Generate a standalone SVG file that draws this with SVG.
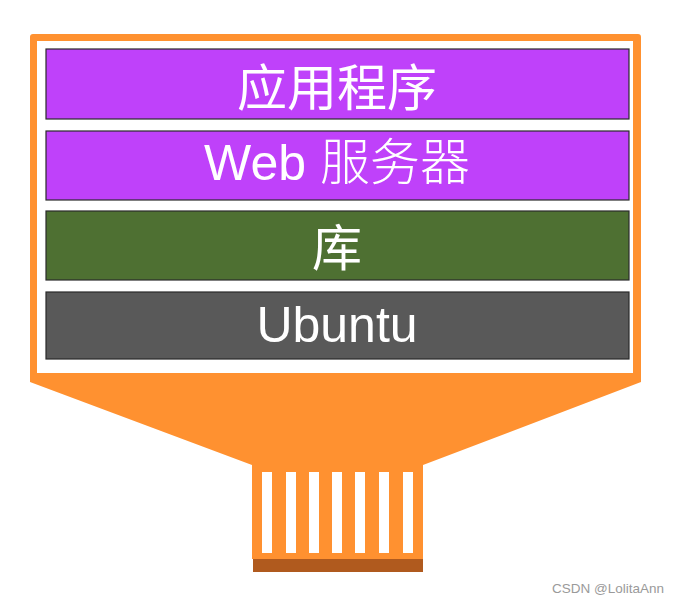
<svg xmlns="http://www.w3.org/2000/svg" width="683" height="603" viewBox="0 0 683 603">
<style>
.layer{stroke:#2a2a2a;stroke-width:1.2}
.lbl{fill:#ffffff;font-family:"Liberation Sans","Noto Sans CJK SC",sans-serif;font-size:50px;text-anchor:middle}
.slot{fill:#ffffff}
</style>
<rect width="683" height="603" fill="#ffffff"/>
<g id="device">
<path d="M33,34 H638 Q641,34 641,37 V382 L423,465 V559 H252 V465 L30,382 V37 Q30,34 33,34 Z" fill="#FF9130"/>
<rect x="37" y="41" width="596" height="332" fill="#ffffff"/>
<rect x="253" y="559" width="170" height="13" fill="#B05A1E"/>
<rect class="slot" x="262" y="472" width="10" height="81"/>
<rect class="slot" x="286" y="472" width="10" height="81"/>
<rect class="slot" x="309" y="472" width="10" height="81"/>
<rect class="slot" x="332" y="472" width="10" height="81"/>
<rect class="slot" x="355" y="472" width="10" height="81"/>
<rect class="slot" x="379" y="472" width="10" height="81"/>
<rect class="slot" x="403" y="472" width="10" height="81"/>
</g>
<g id="app">
<rect class="layer" x="46" y="49" width="583" height="70" fill="#BF41FA"/>
<text class="lbl" x="337" y="106">应用程序</text>
</g>
<g id="web">
<rect class="layer" x="46" y="131" width="583" height="69" fill="#BF41FA"/>
<text class="lbl" x="337" y="180" font-weight="300">Web 服务器</text>
</g>
<g id="lib">
<rect class="layer" x="46" y="211" width="583" height="69" fill="#4E7032"/>
<text class="lbl" x="337" y="266">库</text>
</g>
<g id="ubuntu">
<rect class="layer" x="46" y="292" width="583" height="67" fill="#595959"/>
<text class="lbl" x="337" y="342">Ubuntu</text>
</g>
<g id="connectors"/>
<text x="552" y="593" font-family="'Liberation Sans',sans-serif" font-size="13.5" fill="#9a9a9a">CSDN @LolitaAnn</text>
</svg>
